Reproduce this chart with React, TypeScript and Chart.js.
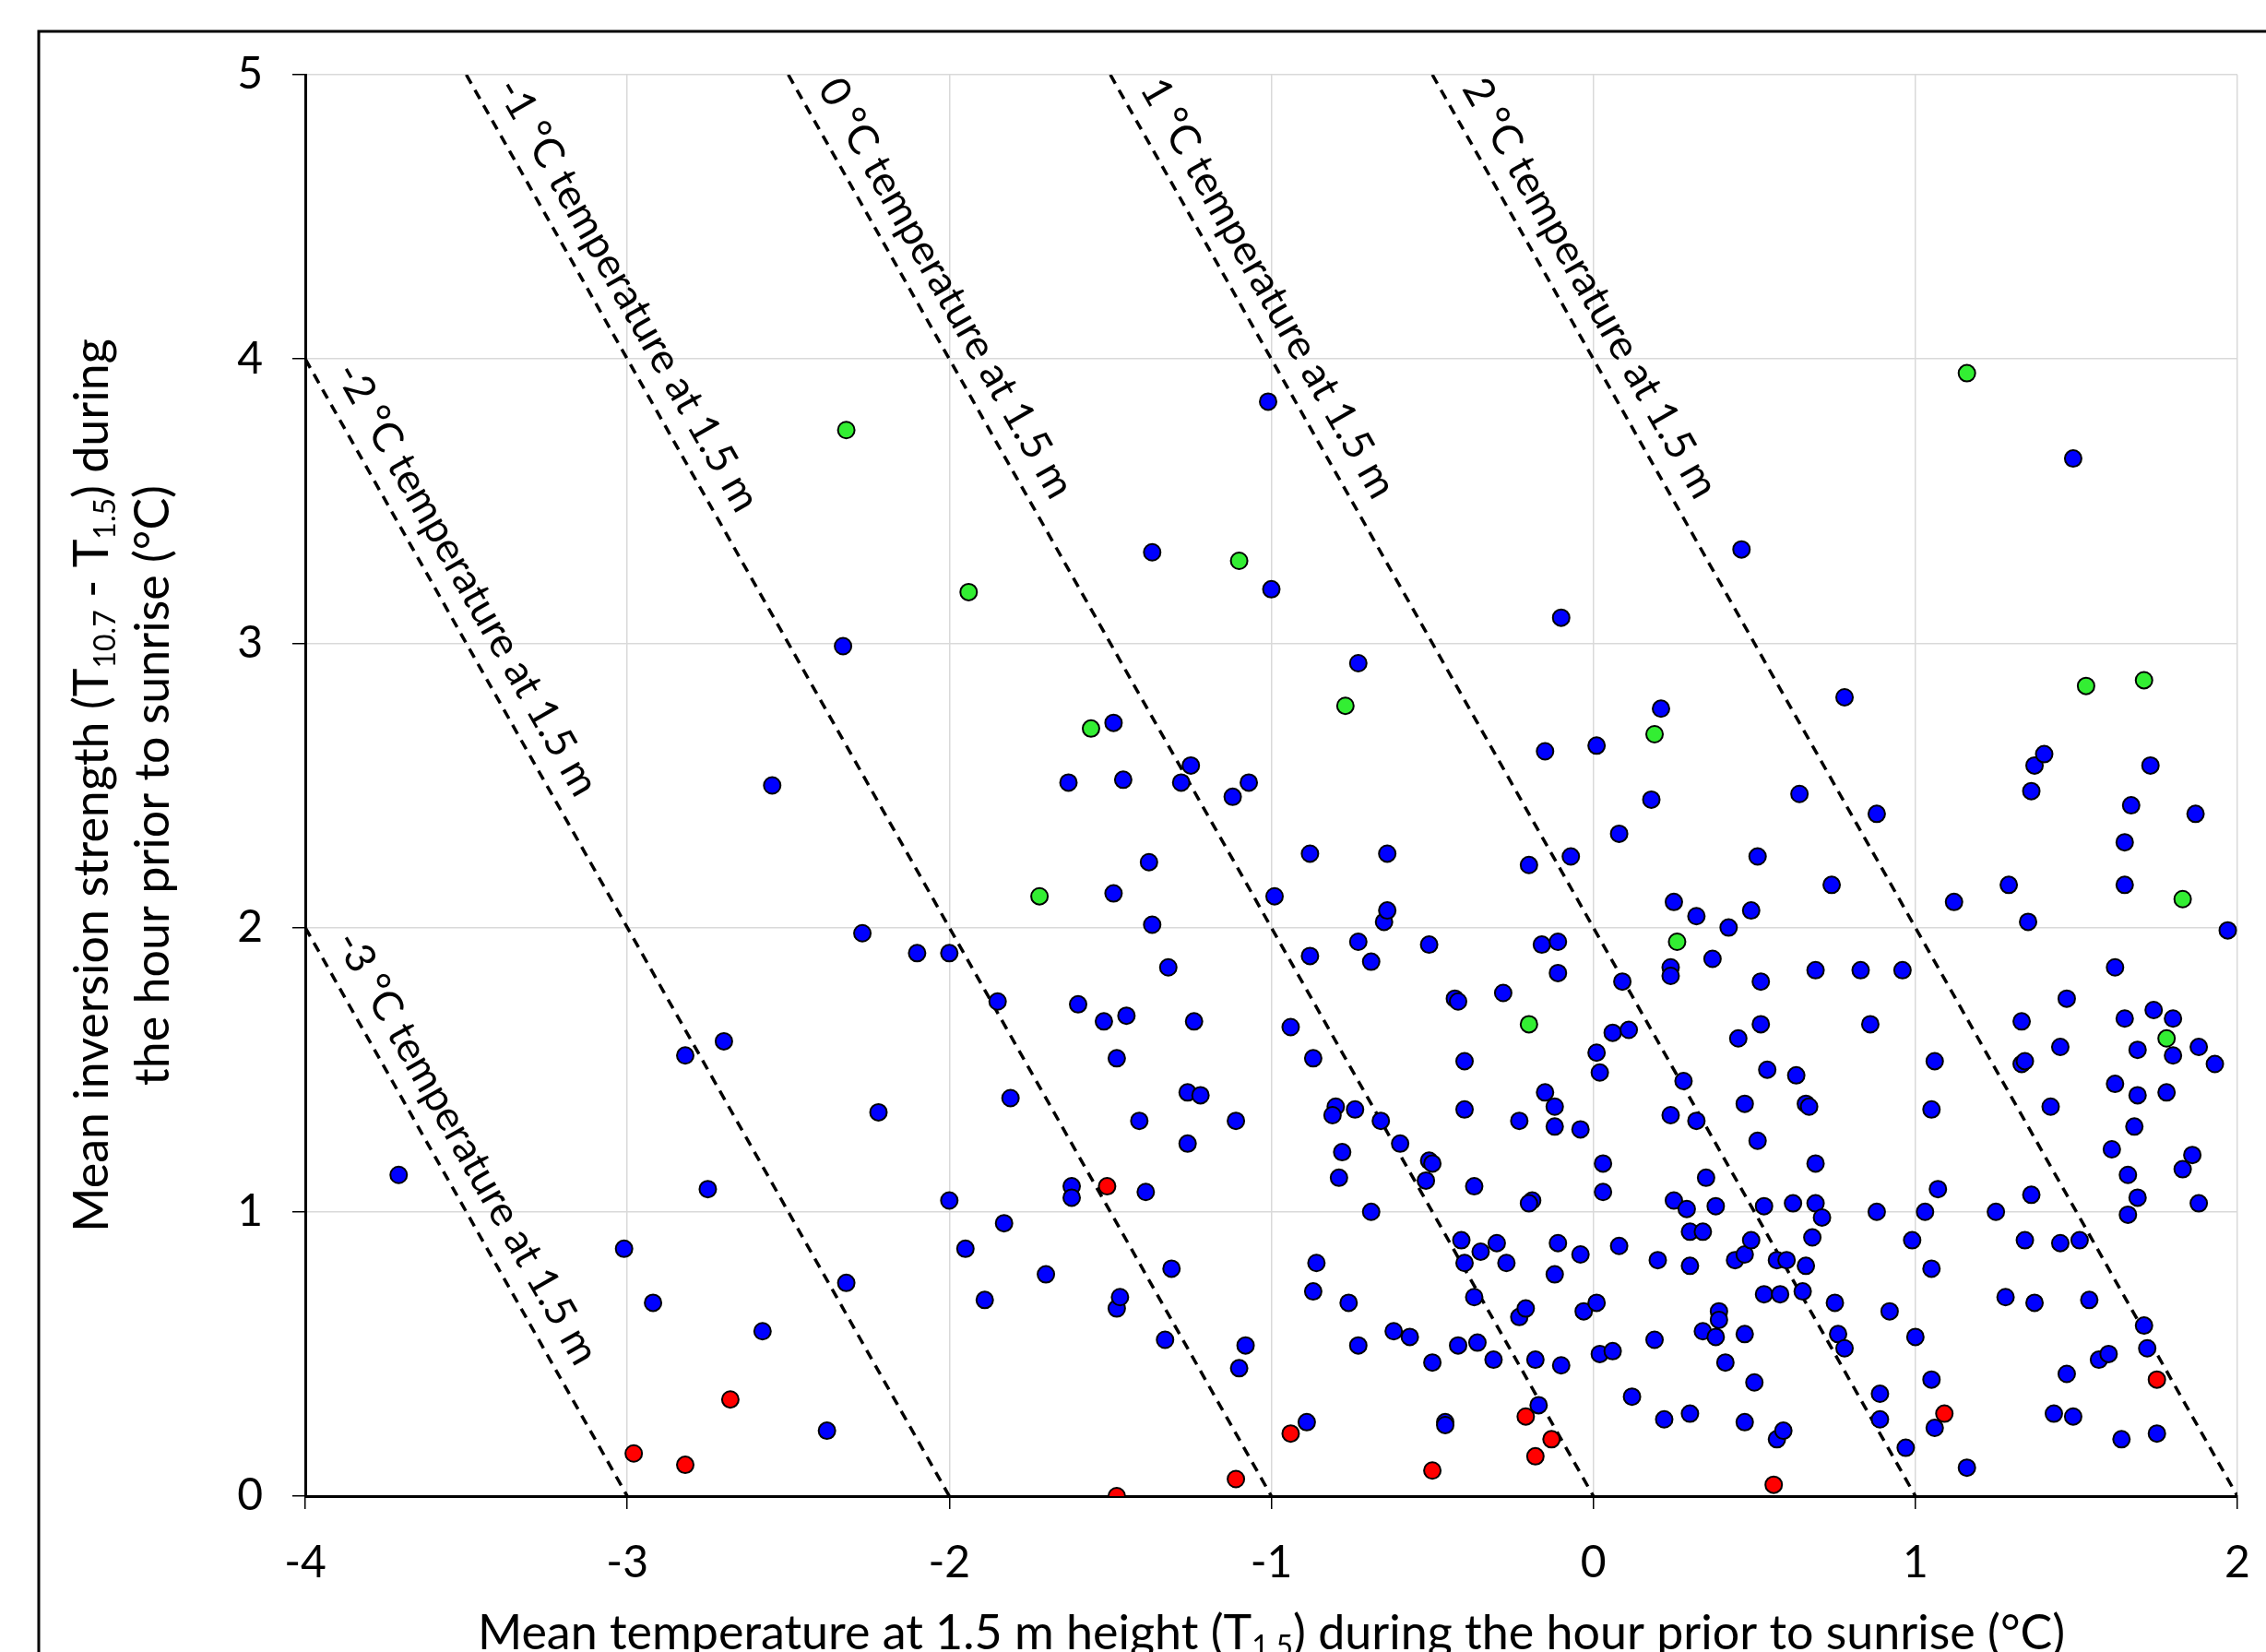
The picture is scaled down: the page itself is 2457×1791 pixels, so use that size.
import React, { useEffect, useRef } from "react";
import { Chart, registerables } from "chart.js";

Chart.register(...registerables);

// isotherm temperatures (°C at 1.5 m) drawn as dashed reference lines
const isotherms = [-3, -2, -1, 0, 1, 2];

const greenPts: [number, number][] = [
  [-2.32, 3.75], [-1.94, 3.18], [-1.56, 2.7], [-1.72, 2.11], [-1.1, 3.29], [-0.77, 2.78],
  [0.19, 2.68], [0.26, 1.95], [-0.2, 1.66], [1.16, 3.95], [1.53, 2.85], [1.71, 2.87],
  [1.83, 2.1], [1.78, 1.61],
];

const redPts: [number, number][] = [
  [-2.98, 0.15], [-2.82, 0.11], [-2.68, 0.34], [-1.51, 1.09], [-1.48, 0.0], [-1.11, 0.06],
  [-0.94, 0.22], [-0.5, 0.09], [-0.21, 0.28], [-0.18, 0.14], [-0.13, 0.2], [0.56, 0.04],
  [1.09, 0.29], [1.75, 0.41],
];

const bluePts: [number, number][] = [
  [-3.71, 1.13], [-3.01, 0.87], [-2.92, 0.68], [-2.82, 1.55], [-2.7, 1.6], [-2.75, 1.08],
  [-2.58, 0.58], [-2.55, 2.5], [-2.38, 0.23], [-2.33, 2.99], [-2.32, 0.75], [-2.27, 1.98],
  [-2.22, 1.35], [-2.1, 1.91], [-2.0, 1.91], [-2.0, 1.04], [-1.95, 0.87], [-1.89, 0.69],
  [-1.85, 1.74], [-1.83, 0.96], [-1.81, 1.4], [-1.7, 0.78], [-1.63, 2.51], [-1.62, 1.09],
  [-1.62, 1.05], [-1.6, 1.73], [-1.49, 2.72], [-1.49, 2.12], [-1.48, 1.54], [-1.52, 1.67],
  [-1.46, 2.52], [-1.45, 1.69], [-1.48, 0.66], [-1.47, 0.7], [-1.41, 1.32], [-1.38, 2.23],
  [-1.37, 2.01], [-1.37, 3.32], [-1.39, 1.07], [-1.33, 0.55], [-1.32, 1.86], [-1.31, 0.8],
  [-1.28, 2.51], [-1.26, 1.24], [-1.26, 1.42], [-1.25, 2.57], [-1.24, 1.67], [-1.22, 1.41],
  [-1.12, 2.46], [-1.11, 1.32], [-1.1, 0.45], [-1.08, 0.53], [-1.07, 2.51], [-1.01, 3.85],
  [-1.0, 3.19], [-0.99, 2.11], [-0.94, 1.65], [-0.88, 2.26], [-0.88, 1.9], [-0.87, 1.54],
  [-0.86, 0.82], [-0.87, 0.72], [-0.89, 0.26], [-0.8, 1.37], [-0.81, 1.34], [-0.78, 1.21],
  [-0.79, 1.12], [-0.76, 0.68], [-0.73, 0.53], [-0.74, 1.36], [-0.73, 2.93], [-0.73, 1.95],
  [-0.69, 1.88], [-0.69, 1.0], [-0.66, 1.32], [-0.65, 2.02], [-0.64, 2.06], [-0.64, 2.26],
  [-0.62, 0.58], [-0.6, 1.24], [-0.57, 0.56], [-0.52, 1.11], [-0.51, 1.18], [-0.5, 0.47],
  [-0.5, 1.17], [-0.51, 1.94], [-0.46, 0.26], [-0.46, 0.25], [-0.43, 1.75], [-0.42, 1.74],
  [-0.42, 0.53], [-0.41, 0.9], [-0.4, 1.53], [-0.4, 1.36], [-0.4, 0.82], [-0.37, 1.09],
  [-0.37, 0.7], [-0.36, 0.54], [-0.35, 0.86], [-0.31, 0.48], [-0.3, 0.89], [-0.28, 1.77],
  [-0.27, 0.82], [-0.23, 1.32], [-0.23, 0.63], [-0.2, 2.22], [-0.19, 1.04], [-0.21, 0.66],
  [-0.2, 1.03], [-0.18, 0.48], [-0.17, 0.32], [-0.16, 1.94], [-0.15, 2.62], [-0.15, 1.42],
  [-0.12, 1.3], [-0.12, 1.37], [-0.11, 1.84], [-0.12, 0.78], [-0.11, 0.89], [-0.11, 1.95],
  [-0.1, 0.46], [-0.1, 3.09], [-0.07, 2.25], [-0.04, 1.29], [-0.04, 0.85], [-0.03, 0.65],
  [0.01, 2.64], [0.01, 0.68], [0.01, 1.56], [0.02, 1.49], [0.03, 1.07], [0.03, 1.17],
  [0.02, 0.5], [0.06, 0.51], [0.06, 1.63], [0.08, 2.33], [0.08, 0.88], [0.09, 1.81],
  [0.11, 1.64], [0.12, 0.35], [0.18, 2.45], [0.19, 0.55], [0.2, 0.83], [0.21, 2.77],
  [0.22, 0.27], [0.24, 1.86], [0.24, 1.83], [0.24, 1.34], [0.25, 1.04], [0.25, 2.09],
  [0.28, 1.46], [0.29, 1.01], [0.3, 0.93], [0.3, 0.81], [0.3, 0.29], [0.32, 1.32],
  [0.32, 2.04], [0.34, 0.93], [0.34, 0.58], [0.35, 1.12], [0.37, 1.89], [0.38, 0.56],
  [0.38, 1.02], [0.39, 0.65], [0.39, 0.62], [0.41, 0.47], [0.42, 2.0], [0.44, 0.83],
  [0.45, 1.61], [0.46, 3.33], [0.47, 0.26], [0.47, 0.85], [0.47, 1.38], [0.47, 0.57],
  [0.49, 0.9], [0.49, 2.06], [0.5, 0.4], [0.51, 2.25], [0.51, 1.25], [0.52, 1.66],
  [0.52, 1.81], [0.53, 1.02], [0.53, 0.71], [0.54, 1.5], [0.57, 0.2], [0.57, 0.83],
  [0.58, 0.71], [0.59, 0.23], [0.6, 0.83], [0.62, 1.03], [0.63, 1.48], [0.64, 2.47],
  [0.65, 0.72], [0.66, 1.38], [0.66, 0.81], [0.67, 1.37], [0.68, 0.91], [0.69, 1.03],
  [0.69, 1.17], [0.69, 1.85], [0.71, 0.98], [0.74, 2.15], [0.75, 0.68], [0.76, 0.57],
  [0.78, 0.52], [0.78, 2.81], [0.83, 1.85], [0.86, 1.66], [0.88, 2.4], [0.88, 1.0],
  [0.89, 0.36], [0.89, 0.27], [0.92, 0.65], [0.96, 1.85], [0.97, 0.17], [0.99, 0.9],
  [1.0, 0.56], [1.03, 1.0], [1.05, 1.36], [1.05, 0.8], [1.05, 0.41], [1.06, 1.53],
  [1.07, 1.08], [1.06, 0.24], [1.12, 2.09], [1.16, 0.1], [1.25, 1.0], [1.28, 0.7],
  [1.29, 2.15], [1.33, 1.67], [1.33, 1.52], [1.34, 1.53], [1.34, 0.9], [1.35, 2.02],
  [1.36, 2.48], [1.36, 1.06], [1.37, 0.68], [1.37, 2.57], [1.4, 2.61], [1.42, 1.37],
  [1.43, 0.29], [1.45, 1.58], [1.45, 0.89], [1.47, 0.43], [1.47, 1.75], [1.49, 0.28],
  [1.49, 3.65], [1.51, 0.9], [1.54, 0.69], [1.57, 0.48], [1.6, 0.5], [1.61, 1.22],
  [1.62, 1.86], [1.62, 1.45], [1.64, 0.2], [1.65, 2.15], [1.65, 2.3], [1.65, 1.68],
  [1.66, 0.99], [1.66, 1.13], [1.67, 2.43], [1.68, 1.3], [1.69, 1.57], [1.69, 1.05],
  [1.69, 1.41], [1.71, 0.6], [1.72, 0.52], [1.73, 2.57], [1.74, 1.71], [1.75, 0.22],
  [1.78, 1.42], [1.8, 1.55], [1.8, 1.68], [1.83, 1.15], [1.86, 1.2], [1.87, 2.4],
  [1.88, 1.58], [1.88, 1.03], [1.93, 1.52], [1.97, 1.99],
];

const xMin = -4, xMax = 2, yMin = 0, yMax = 5;
const xTicks = [-4, -3, -2, -1, 0, 1, 2];
const yTicks = [0, 1, 2, 3, 4, 5];

const FONT = "Lato, 'Open Sans', sans-serif";

type Seg = { t: string; sub?: boolean };
const xTitle: Seg[] = [
  { t: "Mean temperature at 1.5 m height (T" }, { t: "1.5", sub: true },
  { t: ") during the hour prior to sunrise (°C)" },
];
const yTitle1: Seg[] = [
  { t: "Mean inversion strength (T" }, { t: "10.7", sub: true }, { t: " - T" },
  { t: "1.5", sub: true }, { t: ") during" },
];
const yTitle2: Seg[] = [{ t: "the hour prior to sunrise (°C)" }];

// line y = -2 (x - t), clipped to the axes box
function isoLine(t: number) {
  const xTop = Math.max(xMin, t - yMax / 2);
  return [{ x: xTop, y: -2 * (xTop - t) }, { x: t, y: 0 }];
}

function drawRich(ctx: CanvasRenderingContext2D, segs: Seg[], cx: number, cy: number, size: number) {
  const big = `${size}px ${FONT}`;
  const small = `${Math.round(size * 0.62)}px ${FONT}`;
  let w = 0;
  segs.forEach((s) => { ctx.font = s.sub ? small : big; w += ctx.measureText(s.t).width; });
  let x = cx - w / 2;
  ctx.textBaseline = "middle";
  ctx.textAlign = "left";
  segs.forEach((s) => {
    ctx.font = s.sub ? small : big;
    ctx.fillText(s.t, x, s.sub ? cy + size * 0.28 : cy);
    x += ctx.measureText(s.t).width;
  });
}

const decorPlugin = {
  id: "decor",
  beforeDraw(chart: any) {
    const ctx = chart.ctx;
    ctx.save();
    ctx.fillStyle = "#fff";
    ctx.fillRect(0, 0, chart.width, chart.height);
    ctx.strokeStyle = "#000";
    ctx.lineWidth = 3;
    ctx.strokeRect(42, 34, chart.width + 40, chart.height + 40);
    ctx.restore();
  },
  afterDraw(chart: any) {
    const ctx = chart.ctx;
    const xs = chart.scales.x, ys = chart.scales.y;
    ctx.save();
    ctx.fillStyle = "#000";
    // line labels
    const angle = Math.atan2(ys.getPixelForValue(0) - ys.getPixelForValue(2), xs.getPixelForValue(1) - xs.getPixelForValue(0));
    isotherms.forEach((t) => {
      const [p0] = isoLine(t);
      const yStart = Math.min(p0.y, 5) - 0.08;
      const xStart = t - yStart / 2;
      const px = xs.getPixelForValue(xStart), py = ys.getPixelForValue(yStart);
      ctx.save();
      ctx.translate(px, py);
      ctx.rotate(angle);
      ctx.font = `45px ${FONT}`;
      ctx.textAlign = "left";
      ctx.textBaseline = "bottom";
      ctx.fillText(`${t} °C temperature at 1.5 m`, 0, -12);
      ctx.restore();
    });
    // axis titles
    drawRich(ctx, xTitle, (chart.chartArea.left + chart.chartArea.right) / 2, 1771, 52);
    const cy = (chart.chartArea.top + chart.chartArea.bottom) / 2;
    ctx.save();
    ctx.translate(100, cy);
    ctx.rotate(-Math.PI / 2);
    drawRich(ctx, yTitle1, 0, 0, 52);
    ctx.restore();
    ctx.save();
    ctx.translate(166, cy);
    ctx.rotate(-Math.PI / 2);
    drawRich(ctx, yTitle2, 0, 0, 52);
    ctx.restore();
    ctx.restore();
  },
};

const pointSet = (label: string, data: [number, number][], color: string) => ({
  type: "scatter" as const,
  label,
  data: data.map(([x, y]) => ({ x, y })),
  backgroundColor: color,
  borderColor: "#000",
  borderWidth: 2,
  pointRadius: 9,
  order: 1,
});

export default function App() {
  const ref = useRef<HTMLCanvasElement | null>(null);

  useEffect(() => {
    if (!ref.current) return;
    const chart = new Chart(ref.current, {
      type: "scatter",
      data: {
        datasets: [
          ...isotherms.map((t) => ({
            type: "line" as const,
            label: `${t}`,
            data: isoLine(t),
            borderColor: "#000",
            borderWidth: 3.5,
            borderDash: [11, 8],
            pointRadius: 0,
            fill: false,
            order: 2,
          })),
          pointSet("blue", bluePts, "#0000ff"),
          pointSet("green", greenPts, "#33ee33"),
          pointSet("red", redPts, "#ff0000"),
        ] as any,
      },
      options: {
        animation: false,
        responsive: false,
        devicePixelRatio: 1,
        layout: { padding: { top: 81, right: 31, left: 0, bottom: 0 } },
        plugins: { legend: { display: false }, tooltip: { enabled: false } },
        scales: {
          x: {
            type: "linear",
            min: xMin,
            max: xMax,
            afterFit: (s: any) => { s.height = 169; s.paddingLeft = 0; s.paddingRight = 0; },
            afterBuildTicks: (s: any) => { s.ticks = xTicks.map((v) => ({ value: v })); },
            grid: { color: "#d9d9d9", lineWidth: 1.5, tickColor: "#000", tickLength: 14 },
            border: { color: "#000", width: 3 },
            ticks: { color: "#000", font: { family: FONT, size: 48 }, padding: 30 },
          },
          y: {
            type: "linear",
            min: yMin,
            max: yMax,
            afterFit: (s: any) => { s.width = 331; s.paddingTop = 0; s.paddingBottom = 0; },
            afterBuildTicks: (s: any) => { s.ticks = yTicks.map((v) => ({ value: v })); },
            grid: { color: "#d9d9d9", lineWidth: 1.5, tickColor: "#000", tickLength: 14 },
            border: { color: "#000", width: 3 },
            ticks: { color: "#000", font: { family: FONT, size: 48 }, padding: 32 },
          },
        },
      },
      plugins: [decorPlugin],
    });
    return () => chart.destroy();
  }, []);

  return (
    <div style={{ position: "absolute", left: 0, top: 0 }}>
      <canvas ref={ref} width={2457} height={1791} style={{ width: 2457, height: 1791 }} />
    </div>
  );
}
